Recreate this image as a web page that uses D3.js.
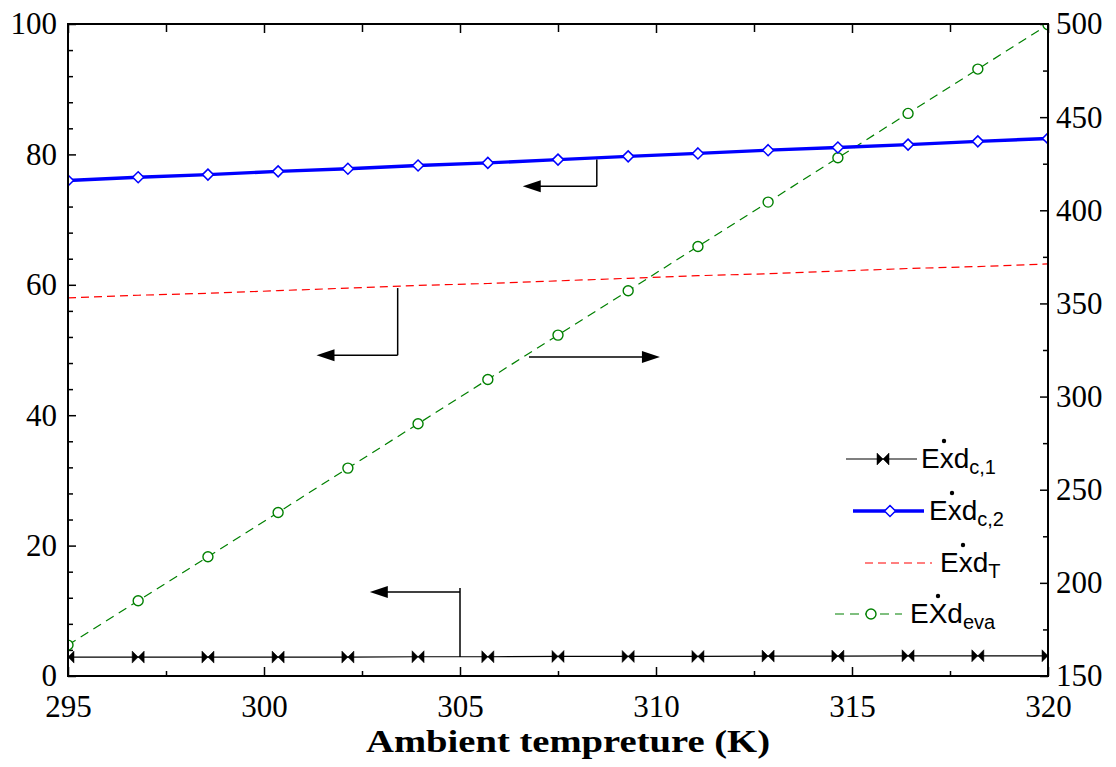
<!DOCTYPE html>
<html>
<head>
<meta charset="utf-8">
<script src="https://cdn.jsdelivr.net/npm/d3@7"></script>
<style>
body { margin: 0; background: #fff; }
</style>
</head>
<body>
<div id="chart-area"></div>
<script>
// temperature points (K)
var temps = [295, 296.79, 298.57, 300.36, 302.14, 303.93, 305.71, 307.5, 309.29, 311.07, 312.86, 314.64, 316.43, 318.21, 320];
// left axis series
var exdC1 = [2.9, 2.9, 2.9, 2.9, 2.9, 2.95, 2.95, 3.0, 3.0, 3.0, 3.05, 3.05, 3.1, 3.1, 3.1];
var exdC2 = [76.0, 76.5, 76.9, 77.4, 77.8, 78.3, 78.7, 79.2, 79.7, 80.15, 80.65, 81.05, 81.5, 82.0, 82.45];
var exdT = [58.0, 58.4, 58.7, 59.1, 59.5, 59.9, 60.2, 60.6, 61.0, 61.4, 61.7, 62.1, 62.5, 62.8, 63.2];
// right axis series
var exdEva = [166.6, 190.4, 214.0, 237.8, 261.6, 285.4, 309.2, 333.0, 356.8, 380.6, 404.4, 428.2, 452.0, 475.8, 499.6];

var xTicks = [295, 300, 305, 310, 315, 320];
var yLeftTicks = [0, 20, 40, 60, 80, 100];
var yRightTicks = [150, 200, 250, 300, 350, 400, 450, 500];

var serif = "'Liberation Serif', 'Times New Roman', serif";
var sans = "'Liberation Sans', Arial, sans-serif";

var margin = { left: 68, right: 68, top: 24, bottom: 91 };
var width = 1116 - margin.left - margin.right;
var height = 767 - margin.top - margin.bottom;

var svg = d3.select("#chart-area")
    .append("svg")
    .attr("width", 1116)
    .attr("height", 767)
    .append("g")
    .attr("transform", "translate(" + margin.left + ", " + margin.top + ")");

var x = d3.scaleLinear().domain([295, 320]).range([0, width]);
var yL = d3.scaleLinear().domain([0, 100]).range([height, 0]);
var yR = d3.scaleLinear().domain([150, 500]).range([height, 0]);

svg.append("clipPath").attr("id", "clip")
    .append("rect").attr("width", width).attr("height", height);

function styleAxis(g) {
    g.attr("font-family", serif).attr("font-size", 31);
    g.select(".domain").remove();
    g.selectAll("line").attr("stroke", "#000").attr("stroke-width", 1.5);
    g.selectAll("text")
        .style("font-family", serif)
        .style("font-size", "31px")
        .attr("fill", "#000");
}

// minor ticks
var xMinor = d3.range(297.5, 320, 5);
var yLMinor = d3.range(0, 100, 4).filter(d => d % 20 != 0);
var yRMinor = d3.range(175, 500, 50);

svg.append("g").attr("transform", "translate(0," + height + ")")
    .call(d3.axisBottom(x).tickValues(xMinor).tickSize(-5).tickFormat("")).call(styleAxis);
svg.append("g")
    .call(d3.axisTop(x).tickValues(xMinor).tickSize(-8).tickFormat("")).call(styleAxis);
svg.append("g")
    .call(d3.axisLeft(yL).tickValues(yLMinor).tickSize(-5).tickFormat("")).call(styleAxis);
svg.append("g").attr("transform", "translate(" + width + ",0)")
    .call(d3.axisRight(yR).tickValues(yRMinor).tickSize(-5).tickFormat("")).call(styleAxis);

// major ticks + labels
svg.append("g").attr("transform", "translate(0," + height + ")")
    .call(d3.axisBottom(x).tickValues(xTicks).tickSize(-9).tickPadding(19).tickFormat(d3.format("d")))
    .call(styleAxis);
svg.append("g")
    .call(d3.axisTop(x).tickValues(xTicks).tickSize(-9).tickFormat("")).call(styleAxis);
svg.append("g")
    .call(d3.axisLeft(yL).tickValues(yLeftTicks).tickSize(-8).tickPadding(11)).call(styleAxis);
svg.append("g").attr("transform", "translate(" + width + ",0)")
    .call(d3.axisRight(yR).tickValues(yRightTicks).tickSize(-8).tickPadding(8)).call(styleAxis);

svg.append("text")
    .attr("x", width / 2 + 10)
    .attr("y", height + 76)
    .attr("text-anchor", "middle")
    .attr("textLength", 404)
    .attr("lengthAdjust", "spacingAndGlyphs")
    .style("font-family", serif)
    .style("font-weight", "bold")
    .style("font-size", "31px")
    .text("Ambient tempreture (K)");

var plot = svg.append("g").attr("clip-path", "url(#clip)");

var bowtie = "M-6,-6L0,0L-6,6ZM6,-6L0,0L6,6Z";
var diamond = "M0,-5.5L5.5,0L0,5.5L-5.5,0Z";

var series = [
    { name: "c1", vals: exdC1, y: yL, color: "#000", width: 1.2, dash: null, marker: "bowtie" },
    { name: "t", vals: exdT, y: yL, color: "#ff0000", width: 1.2, dash: "8,5", marker: null },
    { name: "eva", vals: exdEva, y: yR, color: "#008000", width: 1.2, dash: "9,6", marker: "circle" },
    { name: "c2", vals: exdC2, y: yL, color: "#0000ff", width: 3.4, dash: null, marker: "diamond" }
];

series.forEach(s => {
    var line = d3.line().x((d, i) => x(temps[i])).y(d => s.y(d));
    plot.append("path")
        .datum(s.vals)
        .attr("d", line)
        .attr("fill", "none")
        .attr("stroke", s.color)
        .attr("stroke-width", s.width)
        .attr("stroke-dasharray", s.dash);

    var pts = plot.selectAll(".m-" + s.name).data(s.vals).enter();
    if (s.marker == "circle") {
        pts.append("circle")
            .attr("cx", (d, i) => x(temps[i]))
            .attr("cy", d => s.y(d))
            .attr("r", 5)
            .attr("fill", "#fff")
            .attr("stroke", s.color)
            .attr("stroke-width", 1.4);
    } else if (s.marker) {
        pts.append("path")
            .attr("transform", (d, i) => "translate(" + x(temps[i]) + "," + s.y(d) + ")")
            .attr("d", s.marker == "bowtie" ? bowtie : diamond)
            .attr("fill", s.marker == "bowtie" ? "#000" : "#fff")
            .attr("stroke", s.color)
            .attr("stroke-width", s.marker == "bowtie" ? 0.5 : 1.5);
    }
});

// frame
svg.append("rect")
    .attr("width", width).attr("height", height)
    .attr("fill", "none").attr("stroke", "#000").attr("stroke-width", 2);

// axis-pointing arrows: vertical stem at xv from y0 to y1, horizontal at yh to tip xt
var arrows = [
    { xv: 308.49, y0: 79.2, y1: 75.1, yh: 75.1, xt: 306.6, s: yL },
    { xv: 303.41, y0: 59.5, y1: 49.2, yh: 49.2, xt: 301.34, s: yL },
    { xv: 306.76, y0: null, y1: null, yh: 321.3, xt: 310.1, s: yR },
    { xv: 305.0, y0: 13.5, y1: 2.9, yh: 12.9, xt: 302.7, s: yL }
];

arrows.forEach(a => {
    var g = svg.append("g");
    var xv = x(a.xv), xt = x(a.xt), yh = a.s(a.yh);
    if (a.y0 != null) {
        g.append("line").attr("x1", xv).attr("x2", xv)
            .attr("y1", a.s(a.y0)).attr("y2", a.s(a.y1))
            .attr("stroke", "#000").attr("stroke-width", 1.5);
    }
    var dir = xt < xv ? -1 : 1;
    g.append("line").attr("x1", xv).attr("x2", xt - dir * 17)
        .attr("y1", yh).attr("y2", yh)
        .attr("stroke", "#000").attr("stroke-width", 1.5);
    g.append("path")
        .attr("d", "M" + xt + "," + yh + "L" + (xt - dir * 18) + "," + (yh - 6) +
            "L" + (xt - dir * 18) + "," + (yh + 6) + "Z")
        .attr("fill", "#000");
});

// legend
var legMain = ["Exd", "Exd", "Exd", "EXd"];
var legSub = ["c,1", "c,2", "T", "eva"];
var legRows = [
    { s: series[0], x0: 846, x1: 917, mx: 883, tx: 921, y: 468, dot: 23 },
    { s: series[3], x0: 853, x1: 924, mx: 890, tx: 929, y: 520, dot: 23 },
    { s: series[1], x0: 865, x1: 932, mx: null, tx: 940, y: 572, dot: 23 },
    { s: series[2], x0: 835, x1: 902, mx: 871, tx: 910, y: 623, dot: 28 }
];

var leg = d3.select("svg").append("g");
legRows.forEach((r, i) => {
    var ly = r.y - 9;
    leg.append("line")
        .attr("x1", r.x0).attr("x2", r.x1).attr("y1", ly).attr("y2", ly)
        .attr("stroke", r.s.color).attr("stroke-width", r.s.width)
        .attr("stroke-dasharray", r.s.dash);
    if (r.s.marker == "circle") {
        leg.append("circle").attr("cx", r.mx).attr("cy", ly).attr("r", 5)
            .attr("fill", "#fff").attr("stroke", r.s.color).attr("stroke-width", 1.4);
    } else if (r.s.marker) {
        leg.append("path")
            .attr("transform", "translate(" + r.mx + "," + ly + ")")
            .attr("d", r.s.marker == "bowtie" ? bowtie : diamond)
            .attr("fill", r.s.marker == "bowtie" ? "#000" : "#fff")
            .attr("stroke", r.s.color)
            .attr("stroke-width", r.s.marker == "bowtie" ? 0.5 : 1.5);
    }
    var t = leg.append("text")
        .attr("x", r.tx).attr("y", r.y)
        .style("font-family", sans)
        .style("font-size", "28px")
        .text(legMain[i]);
    t.append("tspan")
        .attr("dy", 6)
        .style("font-size", "20px")
        .text(legSub[i]);
    leg.append("circle")
        .attr("cx", r.tx + r.dot).attr("cy", r.y - 27).attr("r", 2.2)
        .attr("fill", "#000");
});
</script>
</body>
</html>
